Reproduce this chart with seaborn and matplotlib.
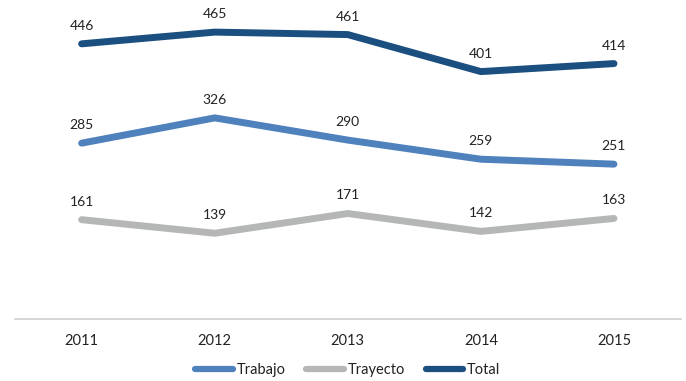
import matplotlib
matplotlib.use("Agg")
import matplotlib.pyplot as plt
import seaborn as sns
import pandas as pd

years = ["2011", "2012", "2013", "2014", "2015"]
trabajo = [285, 326, 290, 259, 251]
trayecto = [161, 139, 171, 142, 163]
total = [446, 465, 461, 401, 414]

series_names = ["Trabajo", "Trayecto", "Total"]
colors = ["#4F81BD", "#B5B7B7", "#1B4F80"]

df = pd.DataFrame({
    "Año": years * 3,
    "Valor": trabajo + trayecto + total,
    "Serie": [s for s in series_names for _ in years],
})

sns.set_theme(style="white")
plt.rcParams["font.family"] = ["Lato", "DejaVu Sans"]

fig = plt.figure(figsize=(6.86, 3.81), dpi=100)
ax = fig.add_axes([0.022, 0.1627, 0.97, 0.8097])

sns.lineplot(data=df, x="Año", y="Valor", hue="Serie", hue_order=series_names,
             palette=colors, linewidth=5, ax=ax, sort=False, legend=True)

for line in ax.lines:
    line.set_solid_capstyle("round")
    line.set_solid_joinstyle("round")

for vals in (trabajo, trayecto, total):
    for i, v in enumerate(vals):
        ax.annotate(str(v), (i, v), xytext=(0, 13), textcoords="offset points",
                    ha="center", va="center", fontsize=10, color="#222222")

ax.set_xlim(-0.5, 4.5)
ax.set_ylim(0, 500)
ax.set_xlabel("")
ax.set_ylabel("")
ax.set_yticks([])
ax.tick_params(axis="x", length=0, pad=11, labelsize=10.5, labelcolor="#222222")
for side in ("top", "left", "right"):
    ax.spines[side].set_visible(False)
ax.spines["bottom"].set_color("#D0D0D0")
ax.spines["bottom"].set_linewidth(1.2)

leg = ax.legend(loc="center", bbox_to_anchor=(0.5, -0.165), ncol=3, frameon=False,
                fontsize=10.5, handlelength=2.6, handletextpad=0.25, columnspacing=1.4)
for h in leg.get_lines():
    h.set_linewidth(4.5)
    h.set_solid_capstyle("round")
for t in leg.get_texts():
    t.set_color("#222222")

fig.savefig("out.png", dpi=100)
